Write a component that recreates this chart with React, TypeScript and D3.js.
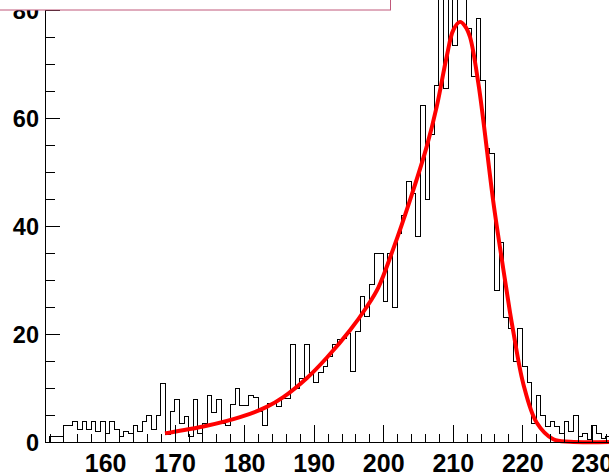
import React from "react";
import * as d3 from "d3";

// ---- data ----
const binStart = 151.28;
const binWidth = 2 / 3;
const counts = [
  0, 1, 1, 1, 3, 3, 3.8, 2.4, 3.8, 2.4,
  3.8, 2, 3.8, 1.5, 3.8, 2.4, 1, 2, 1.5, 3,
  2, 3.8, 5, 2.4, 5, 10.9, 1.3, 5.6, 7.8, 3.5,
  4.7, 1, 7.8, 1.5, 3.5, 8.7, 5.5, 7.8, 3.5, 3,
  6.9, 9.9, 6.7, 6.7, 8.7, 8.3, 5.6, 3, 7.2, 7.2,
  6.5, 8, 8, 18, 10, 11.8, 18, 12.8, 11, 12.8,
  14, 15.8, 18, 18.9, 19.2, 20.1, 13, 20.4, 26.9, 23.2,
  29.1, 35, 35, 26, 35, 25, 38.6, 42, 48.3, 46,
  38, 62.4, 45, 57, 66, 86, 65.5, 84, 73.5, 88,
  84, 76.5, 67.6, 78.4, 67, 54.4, 53.5, 28, 37, 23,
  21, 15, 21, 14, 11, 3.5, 8.7, 5, 2.8, 3.8,
  2.8, 1.6, 3.8, 2, 5, 1, 1.6, 0.5, 3, 1.6,
  0.7, 1,
];

const fitX = [168.54, 174.54, 179.33, 183.17, 185.56, 188.92, 191.8, 195.15, 197.55, 199.22,
  201.38, 203.78, 206.18, 207.62, 209.06, 210.01, 210.97, 211.7, 212.41, 213.6,
  214.32, 215.76, 217.2, 218.16, 218.63, 220.07, 221.99, 224.39, 226.79, 232.4];
const fitY = [1.6, 3.0, 4.6, 6.5, 8.3, 11.8, 15.6, 20.7, 25.0, 28.6,
  35.8, 44.8, 54.7, 62.1, 71.4, 76.3, 77.8, 77.0, 75.0, 66.5,
  59.6, 44.5, 32.0, 24.0, 20.5, 10.8, 3.6, 0.5, 0.05, 0];

const xMajorTicks = [160, 170, 180, 190, 200, 210, 220, 230];
const xMinorTicks = d3.range(152, 233, 2).filter((v) => v % 10 !== 0);
const yMajorTicks = [0, 20, 40, 60, 80];
const yMinorTicks = [5, 10, 15, 25, 30, 35, 45, 50, 55, 65, 70, 75];

const W = 609;
const H = 475;

export default function App() {
  const x = d3.scaleLinear().domain([151.28, 232.4]).range([45, 609]);
  const y = d3.scaleLinear().domain([0, 80]).range([442, 10]);

  const histPts: [number, number][] = [];
  histPts.push([x(binStart), y(0)]);
  counts.forEach((c, i) => {
    const l = binStart + i * binWidth;
    const r = l + binWidth;
    histPts.push([x(l), y(c)]);
    histPts.push([x(r), y(c)]);
  });
  histPts.push([x(binStart + counts.length * binWidth), y(0)]);
  const histPath = d3.line()(histPts) || "";

  const fitPath =
    d3
      .line<number>()
      .x((_, i) => x(fitX[i]))
      .y((d) => Math.min(y(d), y(0)))
      .curve(d3.curveCatmullRom.alpha(0.5))(fitY) || "";

  const font = "'Liberation Sans', Arial, Helvetica, sans-serif";

  return (
    <svg
      width={W}
      height={H}
      style={{ position: "absolute", left: 0, top: 0, background: "#fff" }}
    >
      <rect x={0} y={0} width={W} height={H} fill="#fff" />
      {/* histogram */}
      <path d={histPath} fill="none" stroke="#000" strokeWidth={1} shapeRendering="crispEdges" />
      {/* fit */}
      <path d={fitPath} fill="none" stroke="#ff0000" strokeWidth={4} strokeLinejoin="round" />

      {/* axes */}
      <line x1={45} y1={442} x2={609} y2={442} stroke="#000" strokeWidth={1} shapeRendering="crispEdges" />
      <line x1={45} y1={0} x2={45} y2={442} stroke="#000" strokeWidth={1} shapeRendering="crispEdges" />
      {xMajorTicks.map((v) => (
        <line key={"xM" + v} x1={x(v)} x2={x(v)} y1={442} y2={425} stroke="#000" strokeWidth={1} shapeRendering="crispEdges" />
      ))}
      {xMinorTicks.map((v) => (
        <line key={"xm" + v} x1={x(v)} x2={x(v)} y1={442} y2={433.5} stroke="#000" strokeWidth={1} shapeRendering="crispEdges" />
      ))}
      {yMajorTicks.map((v) => (
        <line key={"yM" + v} x1={45} x2={60} y1={y(v)} y2={y(v)} stroke="#000" strokeWidth={1} shapeRendering="crispEdges" />
      ))}
      {yMinorTicks.map((v) => (
        <line key={"ym" + v} x1={45} x2={55} y1={y(v)} y2={y(v)} stroke="#000" strokeWidth={1} shapeRendering="crispEdges" />
      ))}
      {xMajorTicks.map((v) => (
        <text key={"xl" + v} x={x(v)} y={472} textAnchor="middle" fontFamily={font} fontWeight="bold" fontSize={25} fill="#000">
          {v}
        </text>
      ))}
      {yMajorTicks.map((v) => (
        <text key={"yl" + v} x={39} y={y(v) + 8.5} textAnchor="end" fontFamily={font} fontWeight="bold" fontSize={23.5} fill="#000">
          {v}
        </text>
      ))}

      {/* top box (partially visible) */}
      <rect x={-2} y={-2} width={392.5} height={12} fill="#fff" stroke="#c0587a" strokeWidth={1} />
    </svg>
  );
}
